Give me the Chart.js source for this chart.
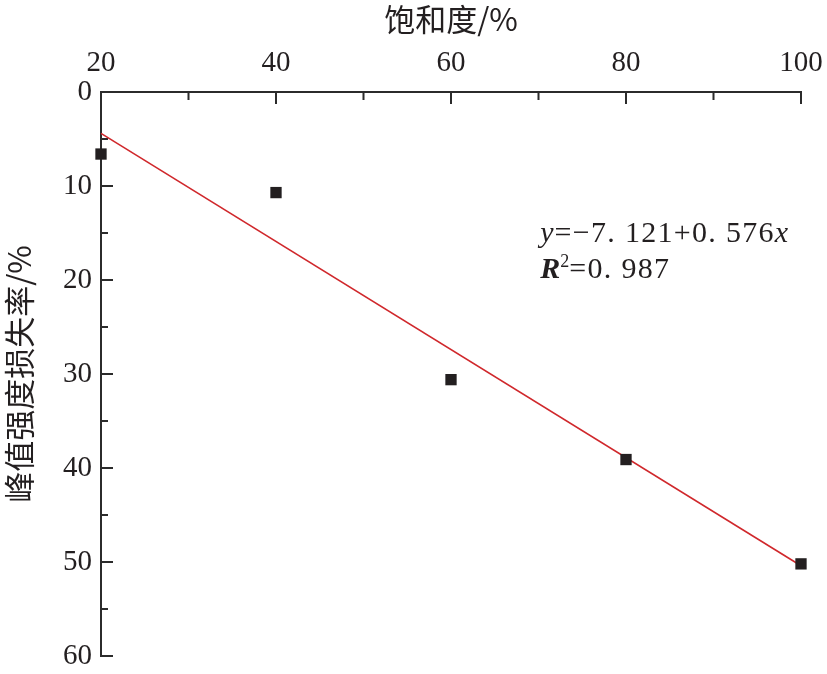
<!DOCTYPE html>
<html><head><meta charset="utf-8">
<script src="https://cdn.jsdelivr.net/npm/chart.js@4.4.0/dist/chart.umd.min.js"></script>
<style>html,body{margin:0;padding:0;background:#fff}#wrap{width:827px;height:674px;position:relative}</style>
</head><body><div id="wrap"><canvas id="c"></canvas></div>
<script>
// ---- data ----
const saturation = [20, 40, 60, 80, 100];
const strengthLoss = [6.6, 10.7, 30.6, 39.1, 50.2];
const fitX = [20, 100];
const fitY = [4.4, 50.4];
const xTicks = [20, 40, 60, 80, 100];
const xMinor = [30, 50, 70, 90];
const yTicks = [0, 10, 20, 30, 40, 50, 60];
const yMinor = [5, 15, 25, 35, 45, 55];
const xTitle = '饱和度/%';
const yTitle = '峰值强度损失率/%';
const eqLine1 = ['y', '=−7. 121+0. 576', 'x'];
const eqLine2 = ['R', '2', '=0. 987'];
const eqAnchor = {x: 70.2, y1: 16.0, y2: 19.8};

const TXT = '#231f20';
const NUM_FONT = "'Liberation Serif', 'Times New Roman', serif";
const CJK_FONT = "'Noto Sans CJK SC', 'Noto Sans CJK JP', sans-serif";

const axesPlugin = {
  id: 'axesInward',
  beforeDatasetsDraw(chart) {
    const {ctx, chartArea: a, scales: {x, y}} = chart;
    ctx.save();
    ctx.strokeStyle = '#2b2b2b';
    ctx.lineWidth = 2;
    ctx.lineCap = 'square';
    ctx.beginPath();
    ctx.moveTo(a.left, a.top); ctx.lineTo(a.right, a.top);
    ctx.moveTo(a.left, a.top); ctx.lineTo(a.left, a.bottom);
    xTicks.forEach(v => { const p = x.getPixelForValue(v); ctx.moveTo(p, a.top); ctx.lineTo(p, a.top + 11); });
    xMinor.forEach(v => { const p = x.getPixelForValue(v); ctx.moveTo(p, a.top); ctx.lineTo(p, a.top + 7); });
    yTicks.forEach(v => { const p = y.getPixelForValue(v); ctx.moveTo(a.left, p); ctx.lineTo(a.left + 11, p); });
    yMinor.forEach(v => { const p = y.getPixelForValue(v); ctx.moveTo(a.left, p); ctx.lineTo(a.left + 6, p); });
    ctx.stroke();
    ctx.restore();
  },
  afterDraw(chart) {
    const {ctx, scales: {x, y}} = chart;
    ctx.save();
    ctx.fillStyle = TXT;
    ctx.textBaseline = 'alphabetic';
    ctx.textAlign = 'left';
    let px = x.getPixelForValue(eqAnchor.x);
    let py = y.getPixelForValue(eqAnchor.y1);
    ctx.font = `italic 30px ${NUM_FONT}`; ctx.fillText(eqLine1[0], px, py); px += ctx.measureText(eqLine1[0]).width + 1;
    ctx.font = `30px ${NUM_FONT}`; ctx.letterSpacing = '1.3px'; ctx.fillText(eqLine1[1], px, py); px += ctx.measureText(eqLine1[1]).width;
    ctx.letterSpacing = '0px';
    ctx.font = `italic 30px ${NUM_FONT}`; ctx.fillText(eqLine1[2], px, py);
    px = x.getPixelForValue(eqAnchor.x);
    py = y.getPixelForValue(eqAnchor.y2);
    ctx.font = `italic bold 30px ${NUM_FONT}`; ctx.fillText(eqLine2[0], px, py); px += ctx.measureText(eqLine2[0]).width;
    ctx.font = `18px ${NUM_FONT}`; ctx.fillText(eqLine2[1], px, py - 11); px += ctx.measureText(eqLine2[1]).width;
    ctx.font = `30px ${NUM_FONT}`; ctx.letterSpacing = '1.3px'; ctx.fillText(eqLine2[2], px, py);
    ctx.restore();
  }
};

new Chart(document.getElementById('c'), {
  type: 'scatter',
  data: {
    datasets: [
      {
        type: 'line',
        label: 'fit',
        data: fitX.map((v, i) => ({x: v, y: fitY[i]})),
        borderColor: '#d0282c',
        borderWidth: 1.6,
        pointRadius: 0,
        fill: false,
        clip: false,
        order: 2
      },
      {
        label: 'data',
        data: saturation.map((v, i) => ({x: v, y: strengthLoss[i]})),
        pointStyle: 'rect',
        pointRadius: 8,
        backgroundColor: '#231f20',
        borderColor: '#231f20',
        borderWidth: 0,
        clip: false,
        order: 1
      }
    ]
  },
  options: {
    responsive: true,
    maintainAspectRatio: false,
    animation: false,
    devicePixelRatio: 1,
    layout: {padding: {left: 0, top: 0, right: 26, bottom: 18}},
    plugins: {legend: {display: false}, tooltip: {enabled: false}},
    scales: {
      x: {
        type: 'linear',
        position: 'top',
        min: 20, max: 100,
        afterBuildTicks: s => { s.ticks = xTicks.map(v => ({value: v})); },
        ticks: {font: {family: NUM_FONT, size: 29}, color: TXT, padding: 11},
        grid: {display: false, drawTicks: false},
        border: {display: false},
        title: {display: true, text: xTitle, color: TXT, font: {family: CJK_FONT, size: 31}, padding: {top: 1, bottom: 0}},
        afterFit: s => { s.height = 92; s.paddingLeft = 0; s.paddingRight = 0; }
      },
      y: {
        type: 'linear',
        reverse: true,
        min: 0, max: 60,
        afterBuildTicks: s => { s.ticks = yTicks.map(v => ({value: v})); },
        ticks: {font: {family: NUM_FONT, size: 29}, color: TXT, padding: 9},
        grid: {display: false, drawTicks: false},
        border: {display: false},
        title: {display: true, text: yTitle, color: TXT, font: {family: CJK_FONT, size: 31}, padding: {top: 1, bottom: 0}},
        afterFit: s => { s.width = 101; s.paddingTop = 0; s.paddingBottom = 0; }
      }
    }
  },
  plugins: [axesPlugin]
});
</script>
</body></html>
